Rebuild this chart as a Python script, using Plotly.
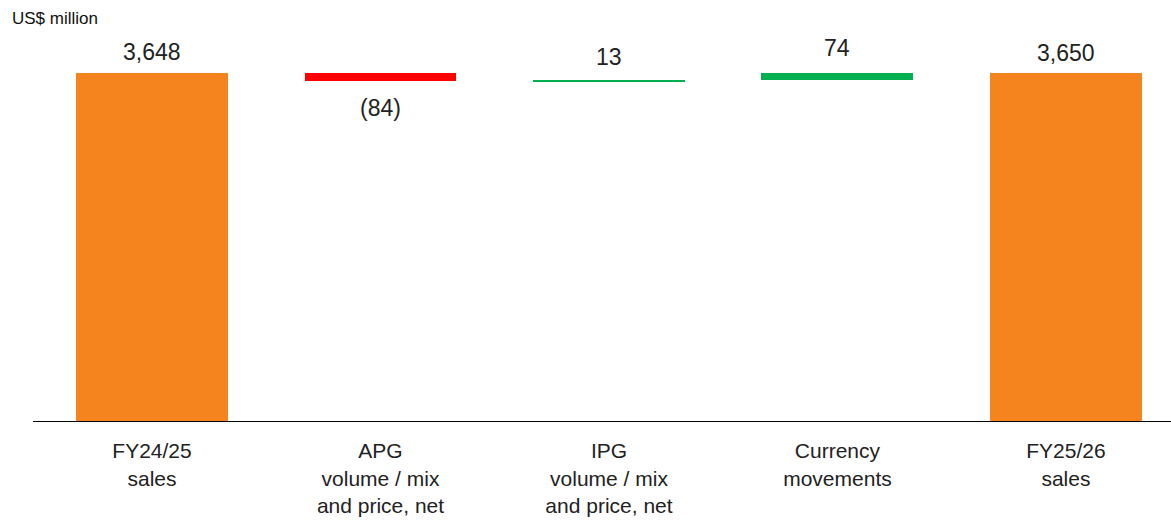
import plotly.graph_objects as go

# ---- data ----
categories = ["FY24/25<br>sales", "APG<br>volume / mix<br>and price, net",
              "IPG<br>volume / mix<br>and price, net", "Currency<br>movements",
              "FY25/26<br>sales"]
measures = ["absolute", "relative", "relative", "relative", "absolute"]
values = [3648, -84, 13, 74, 3650]
labels = ["3,648", "(84)", "13", "74", "3,650"]

# ---- styles ----
ORANGE = "#f5841f"
RED = "#ff0000"
GREEN = "#00b050"
TXT = "#222222"
label_offsets = [21, 27, 23, 25, 20]  # px gap from bar edge to text centre

# compute bases / heights from data
bases, heights, colors = [], [], []
running = 0
for m, v in zip(measures, values):
    if m == "absolute":
        bases.append(0)
        heights.append(v)
        colors.append(ORANGE)
        running = v
    else:
        if v < 0:
            bases.append(running + v)
            heights.append(-v)
            colors.append(RED)
        else:
            bases.append(running)
            heights.append(v)
            colors.append(GREEN)
        running += v

x_idx = list(range(len(categories)))
fig = go.Figure(go.Bar(
    x=x_idx, y=heights, base=bases, marker=dict(color=colors, line=dict(width=0)),
    width=0.665, hoverinfo="skip"))

annotations = []
for i, (m, v, lab) in enumerate(zip(measures, values, labels)):
    top = bases[i] + heights[i]
    bot = bases[i]
    if v < 0 and m == "relative":
        annotations.append(dict(x=i, y=bot, xref="x", yref="y", text=lab, showarrow=False,
                                yanchor="middle", yshift=-label_offsets[i],
                                font=dict(size=23, color=TXT)))
    else:
        annotations.append(dict(x=i, y=top, xref="x", yref="y", text=lab, showarrow=False,
                                yanchor="middle", yshift=label_offsets[i],
                                font=dict(size=23, color=TXT)))

ymax = 3648 * 381 / 348

fig.update_layout(
    width=1171, height=521,
    margin=dict(l=33, r=0, t=40, b=100),
    paper_bgcolor="white", plot_bgcolor="white",
    font=dict(family="Liberation Sans, Arial, sans-serif", color=TXT),
    showlegend=False,
    bargap=0,
    title=dict(text="US$ million", x=12/1171, xref="container", xanchor="left",
               y=1 - 18/521, yref="container", yanchor="middle",
               font=dict(size=17, color="#111111")),
    xaxis=dict(range=[-0.521, 4.46], tickmode="array", tickvals=x_idx, ticktext=categories,
               showline=True, linecolor="#000000", linewidth=1, showgrid=False,
               zeroline=False, ticks="", tickfont=dict(size=21, color=TXT),
               ticklabelstandoff=11, fixedrange=True),
    yaxis=dict(range=[0, ymax], visible=False, showgrid=False, zeroline=False,
               fixedrange=True),
    annotations=annotations,
)

fig.write_html("out.html")
